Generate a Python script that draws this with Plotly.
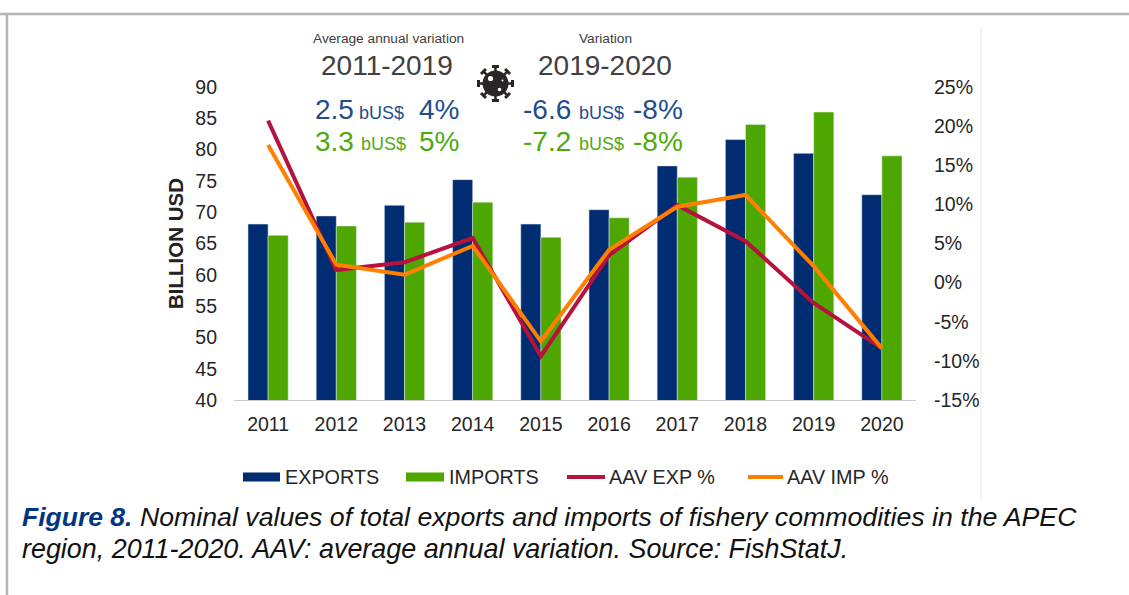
import math
import plotly.graph_objects as go

years = ["2011","2012","2013","2014","2015","2016","2017","2018","2019","2020"]
exports = [68.1,69.4,71.1,75.2,68.1,70.4,77.4,81.6,79.4,72.8]
imports = [66.3,67.8,68.4,71.6,66.0,69.1,75.6,84.0,86.0,79.0]
aav_exp = [20.7,1.6,2.6,5.7,-9.4,3.5,9.9,5.3,-2.6,-8.4]
aav_imp = [17.6,2.3,1.0,4.7,-7.5,4.2,9.7,11.2,2.1,-8.4]
left_ticks = list(range(40,95,5))
right_ticks = list(range(-15,30,5))

NAVY="#002D72"; GREEN="#4EA600"; RED="#B5123E"; ORANGE="#FF8000"
BLUE_T="#1F4E8C"; GREEN_T="#4FAA10"; INK="#262626"
FONT="Liberation Sans"
L,R,T,B=234,916,87,400
def X(p): return (p-L)/(R-L)
def Y(p): return (B-p)/(B-T)

fig=go.Figure()
fig.add_bar(x=years,y=exports,name="EXPORTS",marker_color=NAVY,showlegend=False)
fig.add_bar(x=years,y=imports,name="IMPORTS",marker_color=GREEN,showlegend=False)
fig.add_scatter(x=years,y=aav_exp,name="AAV EXP %",mode="lines",yaxis="y2",line=dict(color=RED,width=4),showlegend=False)
fig.add_scatter(x=years,y=aav_imp,name="AAV IMP %",mode="lines",yaxis="y2",line=dict(color=ORANGE,width=4),showlegend=False)

anns=[]; shapes=[]
def txt(s,px,py,size,color="#333333",font=FONT,anchor="left"):
    anns.append(dict(text=s,x=X(px),y=Y(py),xref="paper",yref="paper",xanchor=anchor,yanchor="middle",
        showarrow=False,font=dict(size=size,color=color,family=font)))
def line(x0,y0,x1,y1,color,w):
    shapes.append(dict(type="line",xref="paper",yref="paper",x0=X(x0),y0=Y(y0),x1=X(x1),y1=Y(y1),
        line=dict(color=color,width=w),layer="below"))

# frame
line(0,14,1129,14,"#B5B5B5",2.5)
line(7,14,7,595,"#B5B5B5",2.5)
line(981,27,981,500,"#F0F0F0",1.5)

# header
txt("Average annual variation",388,38,13.7,"#404040",FONT,"center")
txt("Variation",605,38,13.7,"#404040",FONT,"center")
txt("2011-2019",387,65,28,"#404040",FONT,"center")
txt("2019-2020",605,65,28,"#404040",FONT,"center")
for vals,y,c,bx in [(("2.5","4%","-6.6","-8%"),110,BLUE_T,357),(("3.3","5%","-7.2","-8%"),141,GREEN_T,359)]:
    txt(vals[0],313,y,28,c)
    txt("bUS$",bx,y+3,18,c)
    txt(vals[1],417,y,28,c)
    txt(vals[2],521,y,28,c)
    txt("bUS$",577,y+3,18,c)
    txt(vals[3],631,y,28,c)

# virus icon
cx,cy=495.5,83.5
DARK="#2B2523"
shapes.append(dict(type="circle",xref="paper",yref="paper",x0=X(cx-13),x1=X(cx+13),y0=Y(cy+13),y1=Y(cy-13),fillcolor=DARK,line_width=0))
for i in range(8):
    a=i*math.pi/4
    c,s=math.cos(a),math.sin(a)
    line(cx+10*c,cy+10*s,cx+17*c,cy+17*s,DARK,2.5)
    line(cx+17*c-3.5*s,cy+17*s+3.5*c,cx+17*c+3.5*s,cy+17*s-3.5*c,DARK,3)
for dx,dy,r in [(-5,-5,2.6),(4,6,1.8),(7,-3,1)]:
    shapes.append(dict(type="circle",xref="paper",yref="paper",x0=X(cx+dx-r),x1=X(cx+dx+r),y0=Y(cy+dy+r),y1=Y(cy+dy-r),fillcolor="white",line_width=0))

# legend
for x0,x1,c,w,s,tx in [(243,280,NAVY,9,"EXPORTS",283),(406,444,GREEN,9,"IMPORTS",447),(567,605,RED,4,"AAV EXP %",607),(748,783,ORANGE,4,"AAV IMP %",785)]:
    line(x0,477,x1,477,c,w)
    txt(s,tx,477,19.8,INK)

# caption
anns.append(dict(text="<b><i>Figure 8.</i></b>",x=X(20),y=Y(517),xref="paper",yref="paper",xanchor="left",yanchor="middle",showarrow=False,font=dict(size=26.5,color="#003580",family=FONT)))
txt("<i>Nominal values of total exports and imports of fishery commodities in the APEC</i>",138,517,26.7,"#111111")
txt("<i>region, 2011-2020. AAV: average annual variation. Source: FishStatJ.</i>",20,549,26.9,"#111111")

fig.update_layout(
    width=1129,height=595,autosize=False,margin=dict(l=L,r=1129-R,t=T,b=595-B,pad=0),
    paper_bgcolor="white",plot_bgcolor="white",barmode="group",bargap=0.41,bargroupgap=0,
    font=dict(family=FONT,color=INK,size=19.5),showlegend=False,
    xaxis=dict(type="category",showgrid=False,showline=True,linecolor="#C8C8C8",linewidth=1,ticks="",tickfont=dict(size=19.5),ticklabelstandoff=7),
    yaxis=dict(range=[40,90],tickvals=left_ticks,showgrid=False,zeroline=False,ticks="",tickfont=dict(size=19.5),ticklabelstandoff=16,
        title=dict(text="<b>BILLION USD</b>",font=dict(size=20.5,color="#222222"),standoff=6)),
    yaxis2=dict(range=[-15,25],tickvals=right_ticks,ticktext=[f"{v}%" for v in right_ticks],overlaying="y",side="right",showgrid=False,zeroline=False,ticks="",tickfont=dict(size=19.5),ticklabelstandoff=17),
    annotations=anns,shapes=shapes)
fig.write_html("out.html",config={"displayModeBar":False},post_script="document.body.style.margin='0';document.body.style.overflow='hidden';")
